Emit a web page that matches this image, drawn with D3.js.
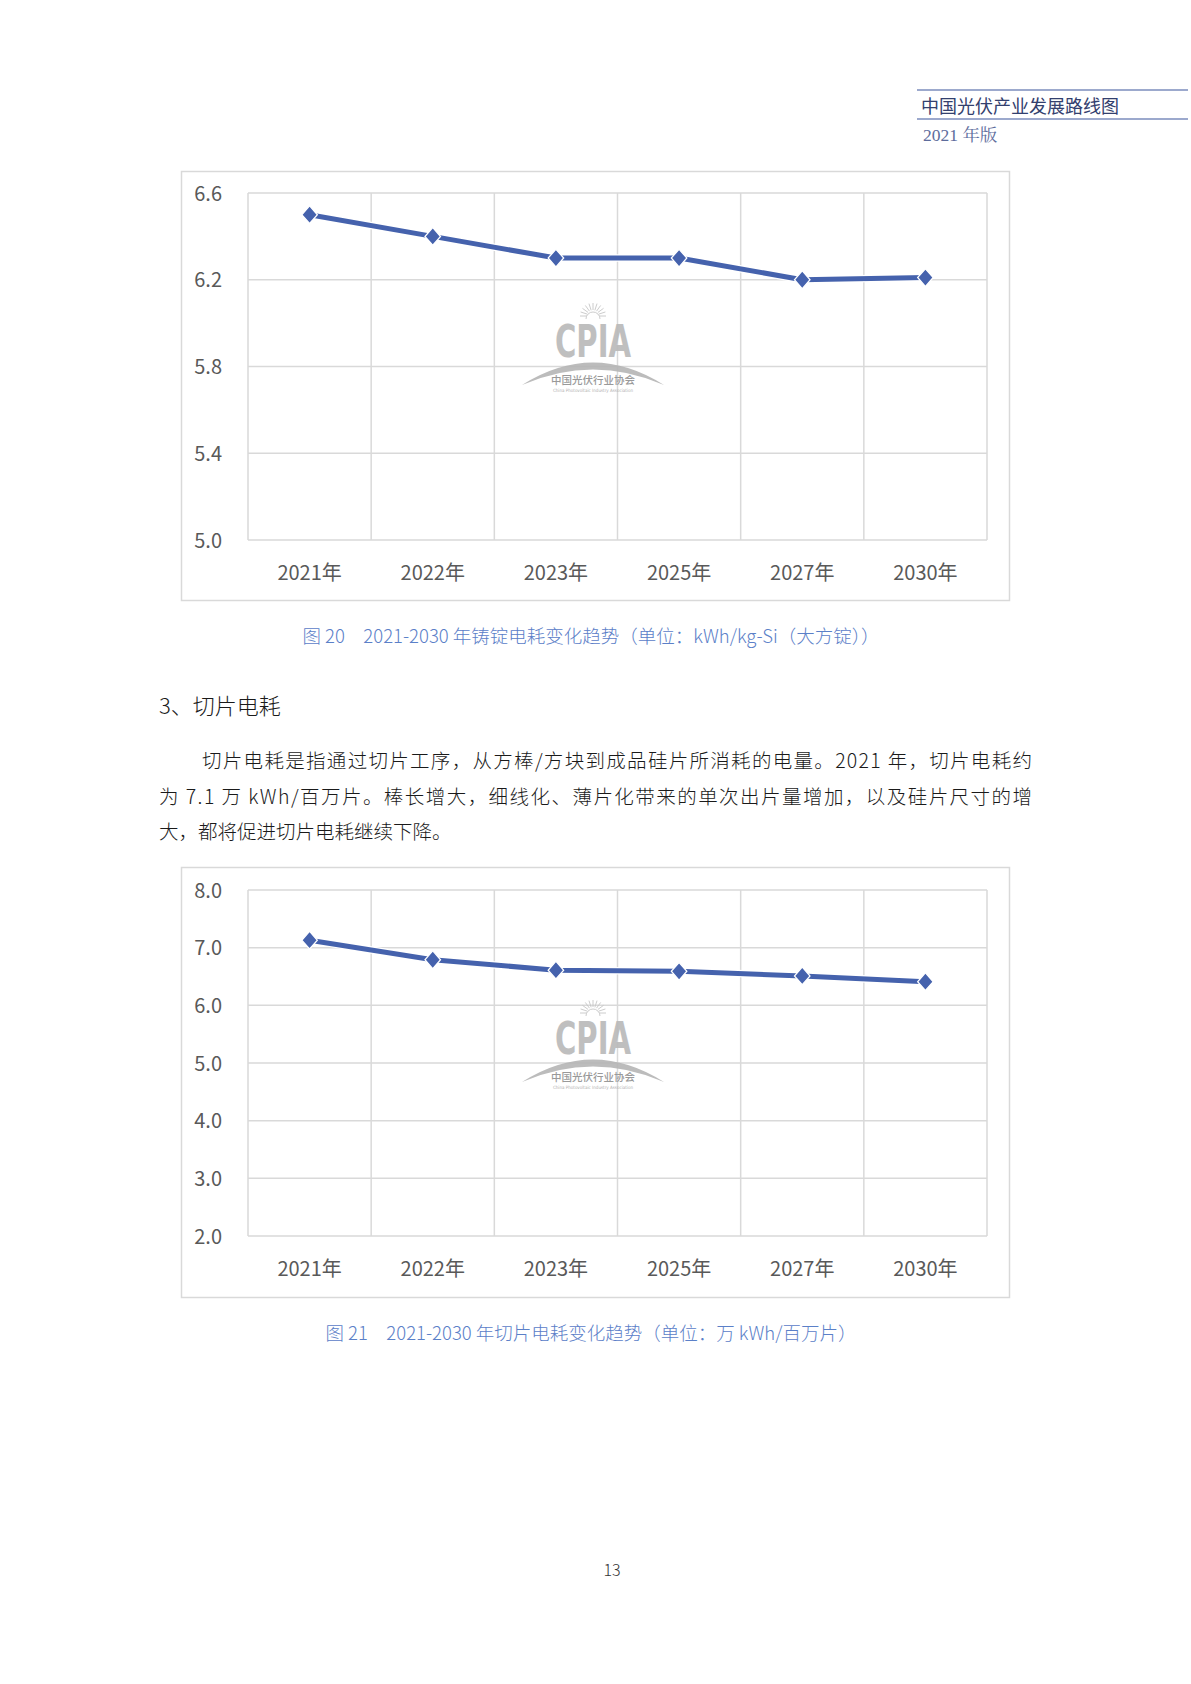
<!DOCTYPE html>
<html><head><meta charset="utf-8">
<script src="https://cdn.jsdelivr.net/npm/d3@7"></script>
<style>
html,body{margin:0;padding:0;background:#fff;}
svg{display:block;}
</style></head>
<body>
<svg id="page" width="1191" height="1684"></svg>
<script>
// ---- data ----
const categories = ["2021年","2022年","2023年","2025年","2027年","2030年"];
const ingotValues = [6.5, 6.4, 6.3, 6.3, 6.2, 6.21];
const ingotTicks = [5.0, 5.4, 5.8, 6.2, 6.6];
const sliceValues = [7.13, 6.79, 6.61, 6.59, 6.51, 6.41];
const sliceTicks = [2.0, 3.0, 4.0, 5.0, 6.0, 7.0, 8.0];

const headerTitle = "中国光伏产业发展路线图";
const headerSub = "2021 年版";
const caption1 = "图 20　2021-2030 年铸锭电耗变化趋势（单位：kWh/kg-Si（大方锭））";
const caption2 = "图 21　2021-2030 年切片电耗变化趋势（单位：万 kWh/百万片）";
const heading = "3、切片电耗";
const paragraph = [
  "切片电耗是指通过切片工序，从方棒/方块到成品硅片所消耗的电量。2021 年，切片电耗约",
  "为 7.1 万 kWh/百万片。棒长增大，细线化、薄片化带来的单次出片量增加，以及硅片尺寸的增",
  "大，都将促进切片电耗继续下降。"
];
const pageNumber = "13";

const svg = d3.select("#page");
const CJK = "'Noto Sans CJK SC','Noto Sans',sans-serif";
const lineColor = "#4562ad";
const gridColor = "#d9d9d9";
const axisText = "#595959";

// ---- header ----
svg.append("line").attr("x1",917).attr("x2",1188).attr("y1",90).attr("y2",90)
  .attr("stroke","#7b8cbc").attr("stroke-width",1.6);
svg.append("line").attr("x1",917).attr("x2",1188).attr("y1",119).attr("y2",119)
  .attr("stroke","#7b8cbc").attr("stroke-width",1.6);
svg.append("text").attr("x",921).attr("y",113).text(headerTitle)
  .attr("font-family",CJK).attr("font-size",18).attr("fill","#33406e");
svg.append("text").attr("x",923).attr("y",141).text(headerSub)
  .attr("font-family","'Liberation Serif','Noto Serif CJK SC','Noto Sans CJK SC',serif").attr("font-size",17.5).attr("fill","#5d6c9c");

// ---- chart drawer ----
function drawChart(cfg){
  const g = svg.append("g");
  g.append("rect").attr("x",cfg.frame[0]+0.5).attr("y",cfg.frame[1]+0.5)
    .attr("width",cfg.frame[2]-cfg.frame[0]).attr("height",cfg.frame[3]-cfg.frame[1])
    .attr("fill","#fff").attr("stroke",gridColor).attr("stroke-width",1.5);
  const x = d3.scaleBand().domain(categories).range([cfg.plot[0],cfg.plot[2]]);
  const y = d3.scaleLinear().domain(cfg.domain).range([cfg.plot[3],cfg.plot[1]]);
  g.selectAll(".hg").data(cfg.ticks).enter().append("line")
    .attr("x1",cfg.plot[0]).attr("x2",cfg.plot[2])
    .attr("y1",d=>y(d)).attr("y2",d=>y(d))
    .attr("stroke",gridColor).attr("stroke-width",1.5);
  const bounds = categories.map(c=>x(c)).concat([cfg.plot[2]]);
  g.selectAll(".vg").data(bounds).enter().append("line")
    .attr("x1",d=>d).attr("x2",d=>d)
    .attr("y1",cfg.plot[1]).attr("y2",cfg.plot[3])
    .attr("stroke",gridColor).attr("stroke-width",1.5);
  const yAxis = d3.axisLeft(y).tickValues(cfg.ticks).tickFormat(d3.format(".1f")).tickSize(0).tickPadding(26);
  const ya = g.append("g").attr("transform",`translate(${cfg.plot[0]},0)`).call(yAxis);
  ya.select(".domain").remove();
  ya.selectAll("text").attr("font-family",CJK).attr("font-size",20).attr("font-weight",400)
    .attr("fill",axisText).attr("dy","0.36em");
  const xAxis = d3.axisBottom(x).tickSize(0).tickPadding(26);
  const xa = g.append("g").attr("transform",`translate(0,${cfg.plot[3]})`).call(xAxis);
  xa.select(".domain").remove();
  xa.selectAll("text").attr("font-family",CJK).attr("font-size",20).attr("font-weight",400)
    .attr("fill",axisText);
  drawWatermark(g, 593, cfg.wmY);
  const pts = categories.map((c,i)=>[x(c)+x.bandwidth()/2, y(cfg.values[i])]);
  g.append("path").datum(pts).attr("d",d3.line())
    .attr("fill","none").attr("stroke","#fff").attr("stroke-width",7.5).attr("stroke-linejoin","round");
  g.append("path").datum(pts).attr("d",d3.line())
    .attr("fill","none").attr("stroke",lineColor).attr("stroke-width",5).attr("stroke-linejoin","round");
  g.selectAll(".mk").data(pts).enter().append("path")
    .attr("d",d3.symbol().type(d3.symbolSquare).size(120))
    .attr("transform",d=>`translate(${d[0]},${d[1]}) scale(1,1.15) rotate(45)`)
    .attr("fill",lineColor).attr("stroke","#fff").attr("stroke-width",1.2);
  svg.append("text").attr("x",591).attr("y",cfg.capY).attr("text-anchor","middle")
    .text(cfg.caption).attr("font-family",CJK).attr("font-size",18.5).attr("font-weight",300)
    .attr("fill","#5b80c8");
}

function drawWatermark(g, cx, cy){
  const w = g.append("g").attr("transform",`translate(${cx},${cy})`).attr("opacity",0.9);
  for(let i=0;i<11;i++){
    const a = Math.PI + Math.PI*i/10;
    w.append("line").attr("x1",Math.cos(a)*6).attr("y1",-24+Math.sin(a)*6)
      .attr("x2",Math.cos(a)*13).attr("y2",-24+Math.sin(a)*13)
      .attr("stroke","#c8c8c8").attr("stroke-width",1);
  }
  w.append("path").attr("d","M -7 -21 A 7 7 0 0 1 7 -21").attr("fill","none").attr("stroke","#c8c8c8").attr("stroke-width",1);
  w.append("text").attr("x",0).attr("y",17).attr("text-anchor","middle").text("CPIA")
    .attr("font-family","'DejaVu Sans Condensed','Liberation Sans Narrow','DejaVu Sans',sans-serif")
    .attr("font-weight","bold").attr("font-size",44).attr("fill","#b9b9b9")
    .attr("textLength",76).attr("lengthAdjust","spacingAndGlyphs");
  w.append("path").attr("d","M -71 45 Q 0 0 71 45 Q 0 14 -71 45 Z").attr("fill","#b5b5b5");
  w.append("text").attr("x",0).attr("y",44).attr("text-anchor","middle").text("中国光伏行业协会")
    .attr("font-family",CJK).attr("font-size",10.5).attr("font-weight",500).attr("fill","#8f8f8f");
  w.append("text").attr("x",0).attr("y",52).attr("text-anchor","middle").text("China Photovoltaic Industry Association")
    .attr("font-family","'Liberation Sans Narrow','DejaVu Sans Condensed',sans-serif").attr("font-size",4.5).attr("fill","#aaaaaa");
}

drawChart({frame:[181,171,1009,600], plot:[248,193,987,540], domain:[5.0,6.6], ticks:ingotTicks,
  values:ingotValues, caption:caption1, capY:643, wmY:340});

svg.append("text").attr("x",159).attr("y",714).text(heading)
  .attr("font-family",CJK).attr("font-size",22).attr("font-weight",300).attr("fill","#1a1a1a");
const paraX = [202,159,159];
const paraW = [1032-202, 1032-159, null];
paragraph.forEach((t,i)=>{
  const tx = svg.append("text").attr("x",paraX[i]).attr("y",768+i*35.5).text(t)
    .attr("font-family",CJK).attr("font-size",19.5).attr("font-weight",300).attr("fill","#1a1a1a");
  if(paraW[i]) tx.attr("textLength",paraW[i]).attr("lengthAdjust","spacing");
});

drawChart({frame:[181,867,1009,1297], plot:[248,890,987,1236], domain:[2.0,8.0], ticks:sliceTicks,
  values:sliceValues, caption:caption2, capY:1340, wmY:1037});

svg.append("text").attr("x",612).attr("y",1576).attr("text-anchor","middle").text(pageNumber)
  .attr("font-family",CJK).attr("font-size",16).attr("font-weight",300).attr("fill","#333");
</script>
</body></html>
